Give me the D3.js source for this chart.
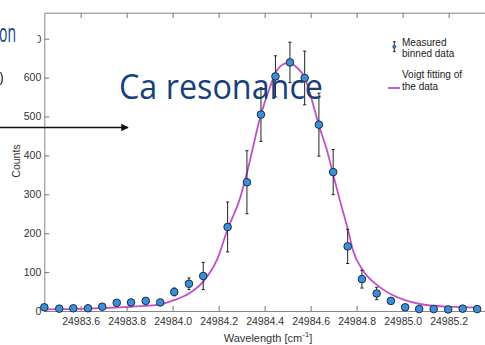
<!DOCTYPE html>
<html>
<head>
<meta charset="utf-8">
<script src="https://cdn.jsdelivr.net/npm/d3@7"></script>
<style>
  html, body { margin: 0; padding: 0; background: #fff; }
  svg { display: block; }
</style>
</head>
<body>
<svg id="chart"></svg>
<script>
const wavelengths = [24983.442, 24983.507, 24983.568, 24983.632, 24983.694, 24983.757, 24983.819, 24983.883,
  24983.946, 24984.007, 24984.071, 24984.133, 24984.239, 24984.323, 24984.384, 24984.447, 24984.510,
  24984.574, 24984.636, 24984.698, 24984.761, 24984.823, 24984.887, 24984.949, 24985.011, 24985.072,
  24985.135, 24985.198, 24985.261, 24985.324];
const counts = [9.5, 6, 7, 7, 11, 21, 22, 26, 22, 49, 70, 90, 216, 331, 505, 603, 639,
  599, 479, 357, 166, 82, 45, 26, 9.5, 5, 5, 4, 6, 5];
const errors = [3, 3, 3, 3, 4, 5, 5, 5, 5, 10, 15, 35, 64, 81, 69, 53, 52,
  69, 81, 58, 44, 23, 16, 8, 4, 3, 3, 3, 3, 3];

// Voigt fit
const fitWavelengths = [24983.440, 24983.632, 24983.753, 24983.880, 24983.945, 24984.006, 24984.071,
  24984.132, 24984.193, 24984.240, 24984.293, 24984.323, 24984.384, 24984.423, 24984.453, 24984.497,
  24984.540, 24984.575, 24984.610, 24984.636, 24984.671, 24984.697, 24984.727, 24984.766, 24984.784,
  24984.827, 24984.888, 24984.949, 24985.010, 24985.075, 24985.197, 24985.336];
const fitCounts = [4, 6, 9, 13, 17, 28, 45, 75, 132, 212, 290, 355, 505, 575, 618, 637,
  626, 599, 533, 477, 413, 353, 285, 200, 156, 105, 67, 43, 28, 18, 11, 8.5];

const xTicks = [24983.6, 24983.8, 24984.0, 24984.2, 24984.4, 24984.6, 24984.8, 24985.0, 24985.2];
const yTicks = [0, 100, 200, 300, 400, 500, 600, 700];

const width = 485;
const height = 345;
const plotLeft = 44.3, plotTop = 13, plotBottom = 311;

const svg = d3.select("#chart")
    .attr("width", width)
    .attr("height", height)
    .style("font-family", "'Liberation Sans', Arial, sans-serif");

svg.append("rect").attr("width", width).attr("height", height).attr("fill", "#fff");

// scales: 0.2 cm^-1 is about 46px
const x = d3.scaleLinear()
    .domain([24983.442, 24985.4])
    .range([plotLeft, plotLeft + 1.958 * 230]);
const y = d3.scaleLinear()
    .domain([0, 766])
    .range([plotBottom, plotTop]);

// frame
svg.append("line")
    .attr("x1", plotLeft).attr("x2", width).attr("y1", plotTop).attr("y2", plotTop)
    .attr("stroke", "#aaa");

const xAxis = svg.append("g")
    .attr("transform", `translate(0,${plotBottom})`)
    .call(d3.axisBottom(x).tickValues(xTicks).tickSize(-5).tickSizeOuter(0).tickPadding(7)
        .tickFormat(d3.format(".1f")));
const topAxis = svg.append("g")
    .attr("transform", `translate(0,${plotTop})`)
    .call(d3.axisTop(x).tickValues(xTicks).tickSize(-5).tickSizeOuter(0).tickFormat(""));
const yAxis = svg.append("g")
    .attr("transform", `translate(${plotLeft},0)`)
    .call(d3.axisLeft(y).tickValues(yTicks).tickSize(-5).tickSizeOuter(0).tickPadding(3));

[xAxis, topAxis, yAxis].forEach(g => {
    g.select(".domain").attr("stroke", "#888");
    g.selectAll(".tick line").attr("stroke", "#777");
    g.selectAll(".tick text").attr("fill", "#333").style("font-size", "10.5px")
        .style("font-family", "'Liberation Sans', Arial, sans-serif");
});
topAxis.select(".domain").attr("stroke", "#aaa");

// axis titles
svg.append("text")
    .attr("transform", "translate(20,161) rotate(-90)")
    .attr("text-anchor", "middle")
    .attr("fill", "#333")
    .style("font-size", "10.5px")
    .text("Counts");

const xTitle = svg.append("text")
    .attr("x", 268).attr("y", 342)
    .attr("text-anchor", "middle")
    .attr("fill", "#333")
    .style("font-size", "11px");
xTitle.append("tspan").text("Wavelength [cm");
xTitle.append("tspan").attr("dy", -5).style("font-size", "8px").text("-1");
xTitle.append("tspan").attr("dy", 5).text("]");

// Voigt fit
const line = d3.line()
    .x(d => x(d[0]))
    .y(d => y(d[1]))
    .curve(d3.curveMonotoneX);
svg.append("path")
    .datum(d3.zip(fitWavelengths, fitCounts))
    .attr("d", line)
    .attr("fill", "none")
    .attr("stroke", "#c050c8")
    .attr("stroke-width", 1.8);

// error bars
const data = wavelengths.map((w, i) => ({ w: w, c: counts[i], e: errors[i] }));
const bars = svg.append("g").attr("stroke", "#222").attr("stroke-width", 1);
bars.selectAll("line.v").data(data).enter().append("line")
    .attr("x1", d => x(d.w)).attr("x2", d => x(d.w))
    .attr("y1", d => y(d.c + d.e)).attr("y2", d => y(d.c - d.e));
bars.selectAll("line.t").data(data).enter().append("line")
    .attr("x1", d => x(d.w) - 1.6).attr("x2", d => x(d.w) + 1.6)
    .attr("y1", d => y(d.c + d.e)).attr("y2", d => y(d.c + d.e));
bars.selectAll("line.b").data(data).enter().append("line")
    .attr("x1", d => x(d.w) - 1.6).attr("x2", d => x(d.w) + 1.6)
    .attr("y1", d => y(d.c - d.e)).attr("y2", d => y(d.c - d.e));

// markers
svg.append("g").selectAll("circle").data(data).enter().append("circle")
    .attr("cx", d => x(d.w))
    .attr("cy", d => y(d.c))
    .attr("r", 3.8)
    .attr("fill", "#3b8fd9")
    .attr("stroke", "#1b2b45")
    .attr("stroke-width", 1);

// legend
const lg = svg.append("g").style("font-size", "10px").attr("fill", "#222");
lg.append("line").attr("x1", 394.3).attr("x2", 394.3).attr("y1", 41.7).attr("y2", 51.7)
    .attr("stroke", "#222");
lg.append("line").attr("x1", 393).attr("x2", 395.6).attr("y1", 41.7).attr("y2", 41.7).attr("stroke", "#222");
lg.append("line").attr("x1", 393).attr("x2", 395.6).attr("y1", 51.7).attr("y2", 51.7).attr("stroke", "#222");
lg.append("circle").attr("cx", 394.3).attr("cy", 46.7).attr("r", 1.6)
    .attr("fill", "#3b8fd9").attr("stroke", "#1b2b45").attr("stroke-width", 0.6);
lg.append("text").attr("x", 402).attr("y", 45.5).text("Measured");
lg.append("text").attr("x", 402).attr("y", 57).text("binned data");
lg.append("line").attr("x1", 388).attr("x2", 400).attr("y1", 88).attr("y2", 88)
    .attr("stroke", "#c050c8").attr("stroke-width", 1.8);
lg.append("text").attr("x", 402).attr("y", 77.5).text("Voigt fitting of");
lg.append("text").attr("x", 402).attr("y", 89.5).text("the data");

// slide overlay: text box hiding most of the top tick label
svg.append("rect").attr("x", 0).attr("y", 0).attr("width", 37.7).attr("height", 50).attr("fill", "#fff");

svg.append("text")
    .attr("x", -1).attr("y", 42)
    .attr("fill", "#163f7c")
    .style("font-family", "'Open Sans', sans-serif")
    .style("font-size", "26px")
    .attr("textLength", 17)
    .attr("lengthAdjust", "spacingAndGlyphs")
    .text("on");

svg.append("text")
    .attr("x", 3.5).attr("y", 82)
    .attr("text-anchor", "end")
    .attr("fill", "#111")
    .style("font-family", "'Open Sans', sans-serif")
    .style("font-size", "14px")
    .text(")");

svg.append("text")
    .attr("x", 119).attr("y", 99)
    .attr("fill", "#163f7c")
    .style("font-family", "'Open Sans', sans-serif")
    .style("font-size", "34px")
    .attr("textLength", 204)
    .attr("lengthAdjust", "spacingAndGlyphs")
    .text("Ca resonance");

// arrow
svg.append("defs").append("marker")
    .attr("id", "arrow")
    .attr("viewBox", "0 0 10 10")
    .attr("refX", 9).attr("refY", 5)
    .attr("markerWidth", 5).attr("markerHeight", 5)
    .attr("orient", "auto")
    .append("path").attr("d", "M0,0L10,5L0,10Z").attr("fill", "#111");
svg.append("line")
    .attr("x1", 0).attr("x2", 128).attr("y1", 127.5).attr("y2", 127.5)
    .attr("stroke", "#111").attr("stroke-width", 1.5)
    .attr("marker-end", "url(#arrow)");
</script>
</body>
</html>
